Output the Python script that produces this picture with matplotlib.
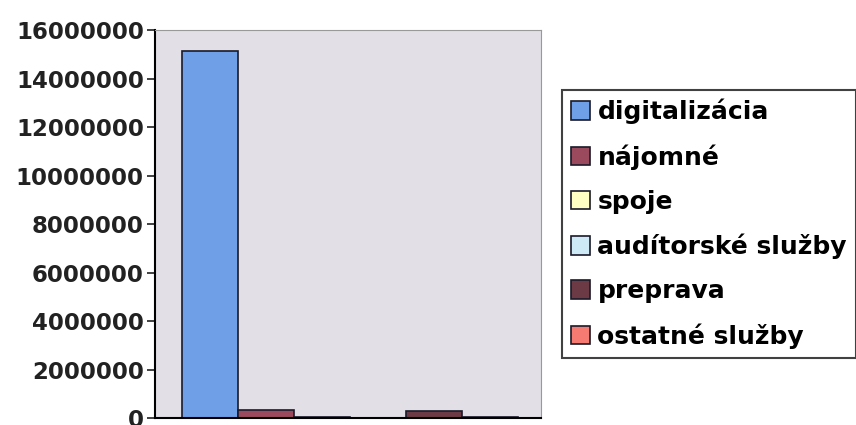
import numpy as np
import matplotlib.pyplot as plt

plt.rcParams['font.family'] = ['DejaVu Sans']

series = ['digitalizácia', 'nájomné', 'spoje', 'audítorské služby', 'preprava', 'ostatné služby']
values = [15150000, 330000, 30000, 20000, 270000, 60000]
colors = ['#6f9fe6', '#9a4a5c', '#ffffc4', '#cfeaf7', '#6b3a44', '#f47a72']
yticks = [0, 2000000, 4000000, 6000000, 8000000, 10000000, 12000000, 14000000, 16000000]

fig = plt.figure(figsize=(8.56, 4.25), dpi=100)
ax = fig.add_axes([0.181, 0.0165, 0.451, 0.9125])
ax.set_facecolor('#e2dfe7')

width = 1.0
offsets = np.arange(len(series)) - (len(series) - 1) / 2
for off, name, val, col in zip(offsets, series, values, colors):
    ax.bar(off * width, val, width=width, color=col, edgecolor='#1a1a2a', linewidth=1.2, label=name)

ax.set_xlim(-3.48, 3.41)
ax.set_ylim(0, 16000000)
ax.set_xticks([])
ax.set_yticks(yticks)
ax.set_yticklabels([str(t) for t in yticks], fontsize=16.5, fontweight='bold', color='#222222')
ax.tick_params(axis='y', length=6, width=1.3, color='#333333', pad=2)
for s in ['top', 'right']:
    ax.spines[s].set_color('#999999')
ax.spines['left'].set_linewidth(1.5)
ax.spines['bottom'].set_linewidth(1.5)

leg = fig.legend(loc='upper left', bbox_to_anchor=(0.657, 0.788), frameon=True, fancybox=False,
                 prop={'size': 18, 'weight': 'bold'}, handlelength=0.75, handleheight=0.75,
                 handletextpad=0.3, labelspacing=0.8, borderpad=0.35, borderaxespad=0)
leg.get_frame().set_edgecolor('#111111')
leg.get_frame().set_linewidth(1.5)

fig.savefig('out.png', dpi=100)
